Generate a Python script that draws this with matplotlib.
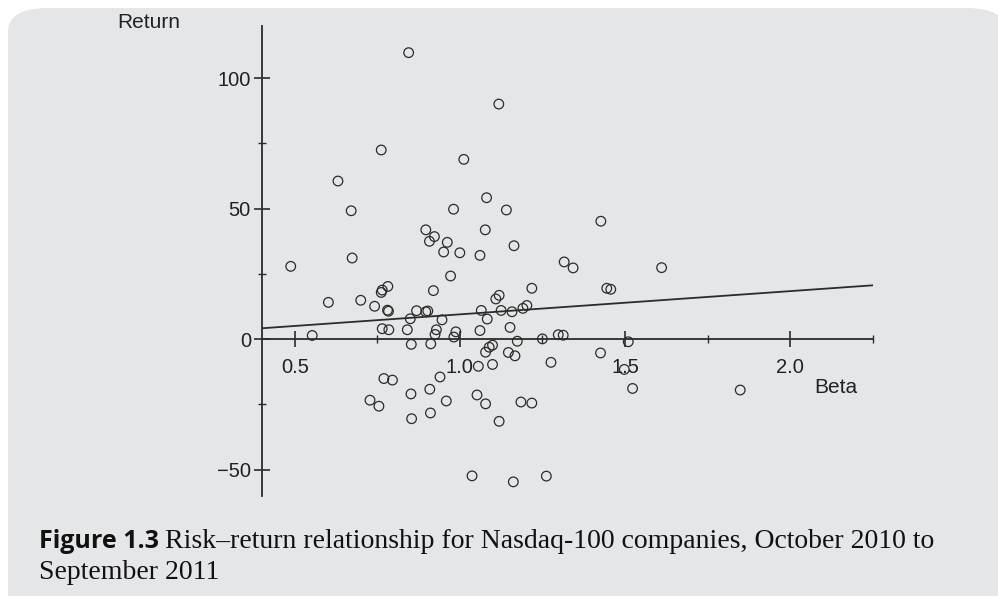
"""Risk-return scatter for Nasdaq-100 companies (beta vs return)."""

import matplotlib
matplotlib.use('Agg')
import matplotlib.pyplot as plt
from matplotlib.patches import FancyBboxPatch
import numpy as np

# beta of each company
beta = [
    0.845, 1.118, 0.762, 1.012, 0.631, 1.081, 0.671, 0.981, 1.141, 0.897,
    1.077, 0.923, 0.908, 0.962, 1.164, 0.951, 1.000, 1.061, 0.674, 0.488,
    1.316, 1.343, 0.972, 0.782, 0.765, 0.762, 0.920, 1.218, 1.119, 1.109,
    0.602, 0.700, 0.742, 0.781, 0.784, 0.869, 0.897, 0.903, 0.850, 0.946,
    1.065, 1.083, 1.125, 1.158, 1.191, 1.203, 0.765, 0.785, 0.841, 0.929,
    0.925, 0.988, 0.982, 1.061, 1.152, 0.553, 1.250, 1.298, 1.313, 0.853,
    0.912, 1.174, 1.099, 1.089, 1.078, 1.147, 1.167, 1.427, 1.611, 1.445,
    1.457, 1.510, 1.426, 1.056, 1.099, 1.276, 0.940, 0.770, 0.796, 0.909,
    0.852, 0.959, 1.052, 1.078, 1.185, 1.218, 0.728, 0.755, 0.911, 0.854,
    1.119, 1.037, 1.162, 1.262, 1.498, 1.523, 1.849,
]
# one-year return, percent
returns = [
    109.8, 90.1, 72.5, 68.9, 60.6, 54.2, 49.2, 49.8, 49.5, 41.9,
    41.9, 39.3, 37.5, 37.1, 35.8, 33.4, 33.1, 32.1, 31.1, 27.9,
    29.6, 27.3, 24.2, 20.2, 18.8, 17.9, 18.6, 19.5, 16.8, 15.4,
    14.1, 14.9, 12.6, 11.1, 10.7, 10.9, 10.5, 10.8, 7.8, 7.4,
    11.0, 7.7, 11.0, 10.5, 11.8, 12.9, 4.0, 3.6, 3.6, 3.6,
    1.8, 2.8, 0.8, 3.3, 4.5, 1.4, 0.1, 1.7, 1.5, -2.0,
    -1.8, -0.8, -2.3, -3.1, -5.0, -5.1, -6.4, 45.2, 27.4, 19.5,
    19.1, -1.0, -5.3, -10.4, -9.7, -8.9, -14.5, -15.1, -15.7, -19.2,
    -21.0, -23.7, -21.4, -24.8, -24.1, -24.5, -23.4, -25.7, -28.3, -30.5,
    -31.5, -52.4, -54.7, -52.5, -11.6, -18.9, -19.5,
]

# fitted line, return = INTERCEPT + SLOPE * beta
INTERCEPT = 0.6
SLOPE = 8.9

X_TICKS = [0.5, 1.0, 1.5, 2.0]
X_MINOR = [0.75, 1.25, 1.75, 2.25]
Y_TICKS = [-50, 0, 50, 100]
Y_MINOR = [-25, 25, 75]

INK = '#2b2b2b'
PANEL = '#e5e6e8'
AXIS_FONT = 'Liberation Sans'


def main():
    fig = plt.figure(figsize=(9.98, 5.96), dpi=100)
    fig.patch.set_facecolor('white')

    # rounded grey panel behind everything, starts 8px in from top/left
    panel = FancyBboxPatch((8 / 998, -0.2), 1.0, 1.2 - 8 / 596,
                           boxstyle='round,pad=0,rounding_size=0.04',
                           transform=fig.transFigure, facecolor=PANEL,
                           edgecolor='none', zorder=-10)
    fig.patches.append(panel)

    ax = fig.add_axes([0.2622, 0.1683, 0.6122, 0.788])
    ax.set_facecolor('none')

    ax.scatter(beta, returns, s=48, facecolors='none', edgecolors=INK,
               linewidths=0.9, zorder=3)

    xs = np.array([0.4, 2.25])
    ax.plot(xs, INTERCEPT + SLOPE * xs, color=INK, linewidth=1.3, zorder=2)

    ax.set_xlim(0.4, 2.25)
    ax.set_ylim(-60, 120)

    for side in ('top', 'right'):
        ax.spines[side].set_visible(False)
    ax.spines['bottom'].set_position(('data', 0))
    for side in ('left', 'bottom'):
        ax.spines[side].set_color(INK)
        ax.spines[side].set_linewidth(1.3)

    ax.set_xticks(X_TICKS)
    ax.set_xticks(X_MINOR, minor=True)
    ax.set_yticks(Y_TICKS)
    ax.set_yticks(Y_MINOR, minor=True)
    ax.set_xticklabels(['0.5', '1.0', '1.5', '2.0'])
    ax.set_yticklabels(['\u221250', '0', '50', '100'])
    ax.tick_params(which='major', direction='inout', length=11.5, width=1.2,
                   color=INK, labelsize=14.5, labelcolor='#222222')
    ax.tick_params(which='minor', direction='inout', length=6, width=1.0,
                   color=INK)
    ax.tick_params(axis='x', which='major', pad=8)
    ax.tick_params(axis='y', which='major', pad=2)
    for lab in ax.get_xticklabels() + ax.get_yticklabels():
        lab.set_fontfamily(AXIS_FONT)

    ax.text(2.138, -18.4, 'Beta', ha='center', va='center', fontsize=15,
            family=AXIS_FONT, color='#222222')
    fig.text(149 / 998, 1 - 22 / 596, 'Return', ha='center', va='center',
             fontsize=15, family=AXIS_FONT, color='#222222')

    # caption
    cap1 = fig.text(39 / 998, 1 - 548 / 596, 'Figure 1.3', ha='left',
                    va='baseline', fontsize=18, fontweight='bold',
                    family='Open Sans', color='#111111')
    fig.canvas.draw()
    bb = cap1.get_window_extent()
    fig.text((bb.x1 + 6) / 998, 1 - 548 / 596,
             'Risk\u2013return relationship for Nasdaq-100 companies, '
             'October 2010 to', ha='left', va='baseline', fontsize=20,
             family='Liberation Serif', color='#111111')
    fig.text(39 / 998, 1 - 579 / 596, 'September 2011', ha='left',
             va='baseline', fontsize=20, family='Liberation Serif',
             color='#111111')

    fig.savefig('out.png', dpi=100, facecolor=fig.get_facecolor())


if __name__ == '__main__':
    main()
